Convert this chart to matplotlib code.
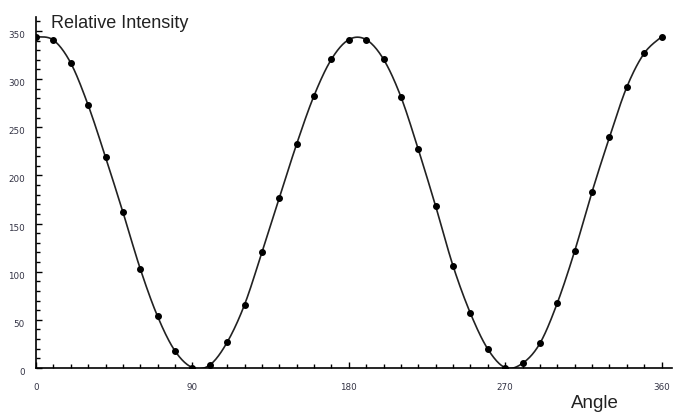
import numpy as np
import matplotlib.pyplot as plt
from matplotlib.ticker import MultipleLocator

# polariser angle (deg) and measured relative intensity
angle = np.arange(0, 361, 10)
intensity = [344, 340.6, 316.7, 273, 219, 162, 103, 53.5, 17.7, 0.5,
             3.1, 26.7, 65.7, 120, 176.5, 232.6, 282.8, 320.6, 341, 341,
             320.6, 281.6, 227, 168, 106, 56.8, 19.7, 0.4, 4.9, 25.6,
             67.5, 121.5, 183, 239.5, 291.8, 326.8, 344]

x_ticks = [0, 90, 180, 270, 360]
y_ticks = [0, 50, 100, 150, 200, 250, 300, 350]


def smooth(x, y, n=20):
    # Catmull-Rom curve through the measured points (just for drawing the line)
    x = np.asarray(x, float)
    y = np.asarray(y, float)
    px = np.concatenate([[x[0]], x, [x[-1]]])
    py = np.concatenate([[y[0]], y, [y[-1]]])
    t = np.linspace(0, 1, n, endpoint=False)
    xs, ys = [], []
    for i in range(1, len(px) - 2):
        for p, out in ((px, xs), (py, ys)):
            p0, p1, p2, p3 = p[i-1], p[i], p[i+1], p[i+2]
            out.extend(0.5 * (2*p1 + (-p0 + p2)*t
                              + (2*p0 - 5*p1 + 4*p2 - p3)*t**2
                              + (-p0 + 3*p1 - 3*p2 + p3)*t**3))
    xs.append(x[-1])
    ys.append(y[-1])
    return np.array(xs), np.array(ys)


fig = plt.figure(figsize=(6.75, 4.13), dpi=100)
ax = fig.add_axes([36/675, 45/413, 636/675, 351/413])

sx, sy = smooth(angle, intensity)
ax.plot(sx, sy, color="#222222", lw=1.2, zorder=2)
ax.plot(angle, intensity, "o", color="black", ms=4, zorder=3)

ax.set_xlim(0, 366)
ax.set_ylim(0, 364.5)

ax.spines["top"].set_visible(False)
ax.spines["right"].set_visible(False)
for s in ("left", "bottom"):
    ax.spines[s].set_linewidth(1.2)

ax.set_xticks(x_ticks)
ax.set_yticks(y_ticks)
ax.xaxis.set_minor_locator(MultipleLocator(10))
ax.yaxis.set_minor_locator(MultipleLocator(10))
ax.tick_params(which="both", direction="in", colors="black", width=1.0)
ax.tick_params(which="major", length=4.5)
ax.tick_params(which="minor", length=3)
ax.tick_params(axis="x", which="major", pad=11, labelsize=6.3, labelcolor="#333344")
ax.tick_params(axis="y", which="major", pad=8, labelsize=6.3, labelcolor="#333344")
for lab in ax.get_yticklabels():
    lab.set_va("top")
    lab.set_y(lab.get_position()[1])

fig.text(51/675, 1 - 28/413, "Relative Intensity", fontsize=13,
         family="Liberation Sans", color="#222222", va="baseline", ha="left")
fig.text(595/675, 1 - 408/413, "Angle", fontsize=13.5,
         family="Liberation Sans", color="#222222", va="baseline", ha="center")

fig.savefig("out.png", dpi=100)
